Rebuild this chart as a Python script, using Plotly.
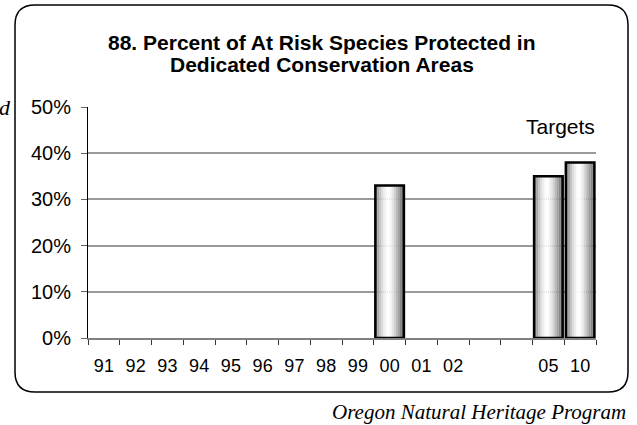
import plotly.graph_objects as go

# ---- data ----
categories = ["91", "92", "93", "94", "95", "96", "97", "98", "99", "00", "01", "02", " ", "  ", "05", "10"]
values = [None, None, None, None, None, None, None, None, None, 33, None, None, None, None, 35, 38]
y_tick_vals = [0, 10, 20, 30, 40, 50]
y_tick_text = ["0%", "10%", "20%", "30%", "40%", "50%"]
title_lines = ["88. Percent of At Risk Species Protected in", "Dedicated Conservation Areas"]
target_label = "Targets"
source_label = "Oregon Natural Heritage Program"

# ---- geometry (pixels) ----
FW, FH = 637, 425
PL, PR, PT, PB = 88, 596, 107, 338
PW, PH = PR - PL, PB - PT


def px(x):
    return (x - PL) / PW


def py(y):
    return (PB - y) / PH


fig = go.Figure()

# gradient strips to imitate the cylinder shading
bar_w = 0.9
strip_colors = ["#8c8c8c", "#a6a6a6", "#c4c4c4", "#dcdcdc", "#eeeeee", "#fafafa", "#ffffff",
                "#f6f6f6", "#e6e6e6", "#d0d0d0", "#b8b8b8", "#a0a0a0", "#888888", "#747474"]
n = len(strip_colors)
sw = bar_w / n
for k, c in enumerate(strip_colors):
    fig.add_trace(go.Bar(
        x=categories, y=values, width=sw * 1.05, offset=-bar_w / 2 + k * sw,
        marker=dict(color=c, line=dict(width=0)), showlegend=False, hoverinfo="skip"))

# outline
fig.add_trace(go.Bar(
    x=categories, y=values, width=bar_w, offset=-bar_w / 2,
    marker=dict(color="rgba(0,0,0,0)", line=dict(color="black", width=2.5)),
    showlegend=False, hoverinfo="skip"))

# rounded frame
L, R, T, B, r = 15, 628, 5, 392, 20
path = (f"M {px(L)},{py(T + r)} Q {px(L)},{py(T)} {px(L + r)},{py(T)} "
        f"L {px(R - r)},{py(T)} Q {px(R)},{py(T)} {px(R)},{py(T + r)} "
        f"L {px(R)},{py(B - r)} Q {px(R)},{py(B)} {px(R - r)},{py(B)} "
        f"L {px(L + r)},{py(B)} Q {px(L)},{py(B)} {px(L)},{py(B - r)} Z")

fig.update_layout(
    width=FW, height=FH,
    margin=dict(l=PL, r=FW - PR, t=PT, b=FH - PB, pad=0),
    paper_bgcolor="white", plot_bgcolor="white",
    barmode="overlay",
    font=dict(family="Liberation Sans, Arial, sans-serif", color="black", size=17),
    xaxis=dict(type="category", categoryorder="array", categoryarray=categories,
               range=[-0.5, len(categories) - 0.5],
               showline=True, linecolor="#808080", linewidth=2,
               ticks="outside", tickson="boundaries", ticklen=5, tickcolor="#333333", tickwidth=1,
               showgrid=False, ticklabelstandoff=10, tickfont=dict(size=18)),
    yaxis=dict(range=[0, 50], tickvals=y_tick_vals, ticktext=y_tick_text,
               showline=True, linecolor="black", linewidth=1,
               ticks="outside", ticklen=6, tickcolor="#666666",
               showgrid=True, gridcolor="#9a9a9a", gridwidth=1.5,
               zeroline=False, ticklabelstandoff=6, tickfont=dict(size=20)),
    shapes=[dict(type="path", path=path, xref="paper", yref="paper",
                 line=dict(color="black", width=1.5), fillcolor="rgba(0,0,0,0)", layer="below")],
    annotations=[
        dict(text=f"<b>{title_lines[0]}</b>", x=px(322), y=py(42), xref="paper", yref="paper",
             showarrow=False, xanchor="center", yanchor="middle", font=dict(size=21)),
        dict(text=f"<b>{title_lines[1]}</b>", x=px(322), y=py(65), xref="paper", yref="paper",
             showarrow=False, xanchor="center", yanchor="middle", font=dict(size=21)),
        dict(text=target_label, x=px(560), y=py(127), xref="paper", yref="paper",
             showarrow=False, xanchor="center", yanchor="middle", font=dict(size=21)),
        dict(text=source_label, x=px(628), y=py(412), xref="paper", yref="paper",
             showarrow=False, xanchor="right", yanchor="middle",
             font=dict(size=21, family="Liberation Serif, Times New Roman, serif", style="italic")),
        dict(text="d", x=px(13), y=py(108), xref="paper", yref="paper",
             showarrow=False, xanchor="right", yanchor="middle",
             font=dict(size=22, family="Liberation Serif, Times New Roman, serif", style="italic")),
    ],
)

fig.write_html("out.html", config={"displayModeBar": False},
               post_script="document.body.style.margin='0';document.body.style.overflow='hidden';")
